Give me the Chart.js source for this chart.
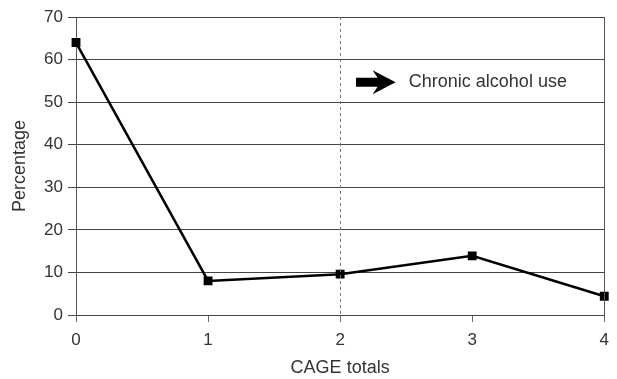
<!DOCTYPE html>
<html>
<head>
<meta charset="utf-8">
<script src="https://cdn.jsdelivr.net/npm/chart.js@4"></script>
<style>
  html, body { margin: 0; padding: 0; background: #fff; }
  #wrap { width: 617px; height: 379px; }
</style>
</head>
<body>
<div id="wrap"><canvas id="chartcage"></canvas></div>
<script>
const cageTotals = [0, 1, 2, 3, 4];
const percentages = [64, 8, 9.6, 13.9, 4.4];
const yTicks = [0, 10, 20, 30, 40, 50, 60, 70];
const cutoff = 2;
const noteText = 'Chronic alcohol use';

const fontFam = '"Liberation Sans", Arial, sans-serif';

// dashed cutoff line, right border and the arrow note
const extras = {
    id: 'extras',
    afterDatasetsDraw(chart) {
        const { ctx, chartArea, scales } = chart;
        const x = scales.x, y = scales.y;
        ctx.save();
        // right border
        ctx.strokeStyle = '#555';
        ctx.lineWidth = 1;
        ctx.beginPath();
        ctx.moveTo(Math.round(x.getPixelForValue(4)) + 0.5, chartArea.top);
        ctx.lineTo(Math.round(x.getPixelForValue(4)) + 0.5, chartArea.bottom);
        ctx.stroke();
        // dashed cutoff
        const cx = Math.round(x.getPixelForValue(cutoff)) + 0.5;
        ctx.strokeStyle = '#777';
        ctx.setLineDash([3, 3]);
        ctx.beginPath();
        ctx.moveTo(cx, chartArea.top);
        ctx.lineTo(cx, chartArea.bottom + 6);
        ctx.stroke();
        ctx.setLineDash([]);
        // arrow
        const ay = y.getPixelForValue(54.7);
        const a0 = x.getPixelForValue(2.12);
        const a1 = x.getPixelForValue(2.42);
        const headX = a1 - 18;
        ctx.fillStyle = '#000';
        ctx.beginPath();
        ctx.moveTo(a0, ay - 4.5);
        ctx.lineTo(headX, ay - 4.5);
        ctx.lineTo(headX - 5, ay - 12);
        ctx.lineTo(a1, ay);
        ctx.lineTo(headX - 5, ay + 12);
        ctx.lineTo(headX, ay + 4.5);
        ctx.lineTo(a0, ay + 4.5);
        ctx.closePath();
        ctx.fill();
        // note text
        ctx.fillStyle = '#333';
        ctx.font = '18px ' + fontFam;
        ctx.textBaseline = 'middle';
        ctx.fillText(noteText, x.getPixelForValue(2.52), ay);
        ctx.restore();
    }
};

const config = {
    type: 'line',
    data: {
        datasets: [{
            label: 'Percentage',
            data: cageTotals.map((c, i) => ({ x: c, y: percentages[i] })),
            borderColor: '#000',
            backgroundColor: '#000',
            borderWidth: 2.5,
            pointStyle: 'rect',
            pointRadius: 4.5,
            pointHoverRadius: 4.5,
            tension: 0,
            clip: false,
        }]
    },
    options: {
        responsive: true,
        maintainAspectRatio: false,
        animation: false,
        layout: { padding: { top: 17, right: 9, left: 0, bottom: 0 } },
        plugins: {
            legend: { display: false },
            tooltip: { enabled: false },
        },
        scales: {
            x: {
                type: 'linear',
                min: 0,
                max: 4,
                afterBuildTicks(scale) {
                    scale.ticks = cageTotals.map(v => ({ value: v }));
                },
                afterFit(scale) { scale.height = 64; },
                grid: {
                    drawOnChartArea: false,
                    drawTicks: true,
                    tickLength: 7,
                    color: '#666',
                },
                border: { display: true, color: '#444', width: 1 },
                ticks: {
                    color: '#333',
                    font: { family: fontFam, size: 17 },
                    padding: 8,
                    maxRotation: 0,
                },
                title: {
                    display: true,
                    text: 'CAGE totals',
                    color: '#333',
                    font: { family: fontFam, size: 18 },
                    padding: { top: 0, bottom: 0 },
                },
            },
            y: {
                min: 0,
                max: 70,
                afterBuildTicks(scale) {
                    scale.ticks = yTicks.map(v => ({ value: v }));
                },
                afterFit(scale) { scale.width = 76; },
                grid: {
                    color: '#444',
                    lineWidth: 1,
                    drawTicks: true,
                    tickLength: 8,
                },
                border: { display: true, color: '#555', width: 1 },
                ticks: {
                    color: '#333',
                    font: { family: fontFam, size: 17 },
                    padding: 5,
                },
                title: {
                    display: true,
                    text: 'Percentage',
                    color: '#333',
                    font: { family: fontFam, size: 18 },
                    padding: { top: 9, bottom: 0 },
                },
            },
        },
    },
    plugins: [extras],
};

const chartcage = new Chart(
    document.getElementById('chartcage'),
    config
);
</script>
</body>
</html>
